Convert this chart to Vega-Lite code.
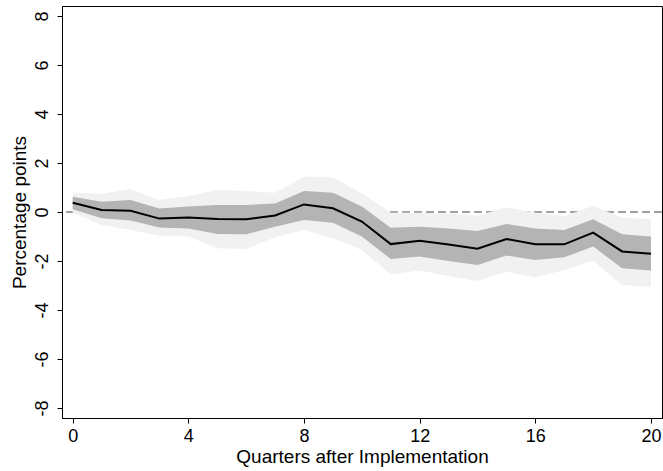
{
  "$schema": "https://vega.github.io/schema/vega-lite/v6.json",
  "width": 600,
  "height": 412,
  "autosize": {"type": "none"},
  "padding": {"left": 62, "top": 6, "right": 1, "bottom": 53},
  "background": "white",
  "view": {"stroke": "black", "strokeWidth": 1},
  "config": {
    "font": "Liberation Sans",
    "axis": {
      "domainColor": "black",
      "tickColor": "black",
      "tickSize": 5,
      "grid": false,
      "labelColor": "black",
      "titleColor": "black",
      "labelFontSize": 18,
      "titleFontSize": 19,
      "titleFontWeight": "normal",
      "labelFont": "Liberation Sans",
      "titleFont": "Liberation Sans",
      "labelExpr": "toString(datum.value)"
    }
  },
  "data": {
    "values": [
      {"q": 0, "est": 0.38, "hi1": 0.62, "lo1": 0.11, "hi2": 0.80, "lo2": -0.03},
      {"q": 1, "est": 0.08, "hi1": 0.42, "lo1": -0.26, "hi2": 0.75, "lo2": -0.53},
      {"q": 2, "est": 0.05, "hi1": 0.49, "lo1": -0.35, "hi2": 0.94, "lo2": -0.73},
      {"q": 3, "est": -0.27, "hi1": 0.14, "lo1": -0.63, "hi2": 0.49, "lo2": -0.97},
      {"q": 4, "est": -0.22, "hi1": 0.22, "lo1": -0.67, "hi2": 0.65, "lo2": -1.00},
      {"q": 5, "est": -0.29, "hi1": 0.29, "lo1": -0.90, "hi2": 0.90, "lo2": -1.48},
      {"q": 6, "est": -0.30, "hi1": 0.29, "lo1": -0.91, "hi2": 0.86, "lo2": -1.51},
      {"q": 7, "est": -0.14, "hi1": 0.35, "lo1": -0.60, "hi2": 0.79, "lo2": -1.03},
      {"q": 8, "est": 0.31, "hi1": 0.86, "lo1": -0.33, "hi2": 1.44, "lo2": -0.73},
      {"q": 9, "est": 0.15, "hi1": 0.79, "lo1": -0.44, "hi2": 1.42, "lo2": -1.07},
      {"q": 10, "est": -0.39, "hi1": 0.22, "lo1": -1.00, "hi2": 0.76, "lo2": -1.55},
      {"q": 11, "est": -1.31, "hi1": -0.64, "lo1": -1.92, "hi2": -0.03, "lo2": -2.54},
      {"q": 12, "est": -1.17, "hi1": -0.60, "lo1": -1.82, "hi2": -0.03, "lo2": -2.39},
      {"q": 13, "est": -1.33, "hi1": -0.67, "lo1": -2.00, "hi2": -0.06, "lo2": -2.61},
      {"q": 14, "est": -1.50, "hi1": -0.78, "lo1": -2.16, "hi2": -0.14, "lo2": -2.82},
      {"q": 15, "est": -1.10, "hi1": -0.49, "lo1": -1.78, "hi2": 0.18, "lo2": -2.44},
      {"q": 16, "est": -1.32, "hi1": -0.67, "lo1": -1.96, "hi2": -0.03, "lo2": -2.67},
      {"q": 17, "est": -1.32, "hi1": -0.73, "lo1": -1.85, "hi2": -0.16, "lo2": -2.37},
      {"q": 18, "est": -0.84, "hi1": -0.30, "lo1": -1.41, "hi2": 0.24, "lo2": -1.99},
      {"q": 19, "est": -1.61, "hi1": -0.91, "lo1": -2.30, "hi2": -0.22, "lo2": -2.98},
      {"q": 20, "est": -1.70, "hi1": -1.00, "lo1": -2.39, "hi2": -0.30, "lo2": -3.06}
    ]
  },
  "encoding": {
    "x": {
      "field": "q",
      "type": "quantitative",
      "scale": {"domain": [-0.37, 20.38], "nice": false, "zero": false},
      "axis": {"values": [0, 4, 8, 12, 16, 20], "title": "Quarters after Implementation", "labelPadding": 4, "titlePadding": 2}
    }
  },
  "layer": [
    {
      "data": {"values": [{"zero": 0}]},
      "mark": {"type": "rule", "color": "#444444", "strokeWidth": 1, "strokeDash": [8, 4]},
      "encoding": {
        "x": null,
        "y": {"field": "zero", "type": "quantitative"}
      }
    },
    {
      "mark": {"type": "area", "color": "#f1f1f1", "opacity": 1},
      "encoding": {
        "y": {
          "field": "lo2",
          "type": "quantitative",
          "scale": {"domain": [-8.41, 8.41], "nice": false, "zero": false},
          "axis": {"values": [-8, -6, -4, -2, 0, 2, 4, 6, 8], "title": "Percentage points", "labelAngle": -90, "labelAlign": "center", "labelBaseline": "bottom", "labelPadding": 6, "titlePadding": 4}
        },
        "y2": {"field": "hi2"}
      }
    },
    {
      "mark": {"type": "area", "color": "#b4b4b4", "opacity": 1},
      "encoding": {
        "y": {"field": "lo1", "type": "quantitative"},
        "y2": {"field": "hi1"}
      }
    },
    {
      "mark": {"type": "line", "color": "black", "strokeWidth": 2},
      "encoding": {
        "y": {"field": "est", "type": "quantitative"}
      }
    }
  ]
}
